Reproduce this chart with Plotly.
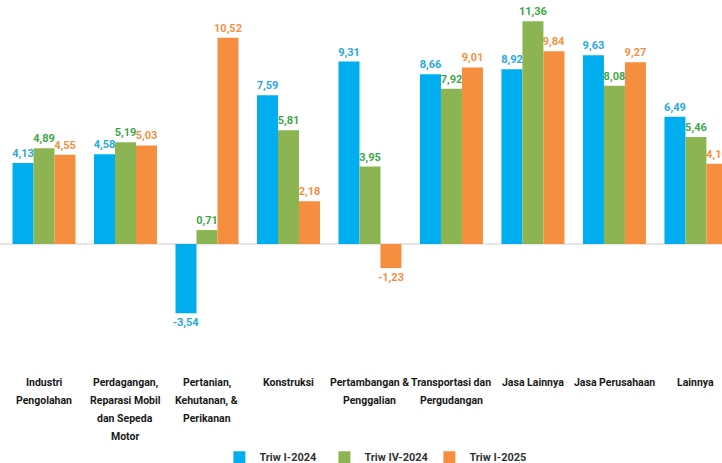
import plotly.graph_objects as go

categories = ["Industri Pengolahan", "Perdagangan, Reparasi Mobil dan Sepeda Motor",
              "Pertanian, Kehutanan, & Perikanan", "Konstruksi", "Pertambangan & Penggalian",
              "Transportasi dan Pergudangan", "Jasa Lainnya", "Jasa Perusahaan", "Lainnya"]
tick_labels = ["Industri<br>Pengolahan", "Perdagangan,<br>Reparasi Mobil<br>dan Sepeda<br>Motor",
               "Pertanian,<br>Kehutanan, &<br>Perikanan", "Konstruksi", "Pertambangan &<br>Penggalian",
               "Transportasi dan<br>Pergudangan", "Jasa Lainnya", "Jasa Perusahaan", "Lainnya"]
series_names = ["Triw I-2024", "Triw IV-2024", "Triw I-2025"]
triw_i_2024 = [4.13, 4.58, -3.54, 7.59, 9.31, 8.66, 8.92, 9.63, 6.49]
triw_iv_2024 = [4.89, 5.19, 0.71, 5.81, 3.95, 7.92, 11.36, 8.08, 5.46]
triw_i_2025 = [4.55, 5.03, 10.52, 2.18, -1.23, 9.01, 9.84, 9.27, 4.10]

bar_colors = ["#00AEEF", "#8DB453", "#F68E3F"]
text_colors = ["#29A9E1", "#3FA64A", "#F39143"]
FONT = "Roboto, Liberation Sans, sans-serif"

fig = go.Figure()
for name, vals, bc, tc in zip(series_names, [triw_i_2024, triw_iv_2024, triw_i_2025], bar_colors, text_colors):
    fig.add_trace(go.Bar(
        x=categories, y=vals, name=name,
        marker=dict(color=bc, line=dict(width=0)),
        text=[f"{v:.2f}".replace(".", ",") for v in vals],
        textposition="outside",
        constraintext="none",
        textfont=dict(color=tc, size=11, family=FONT, weight="bold"),
        cliponaxis=True,
    ))

# category labels, one annotation per line to reproduce the reference line spacing
for cat, lab in zip(categories, tick_labels):
    for i, line in enumerate(lab.split("<br>")):
        fig.add_annotation(x=cat, y=0, xref="x", yref="paper", text=line, showarrow=False,
                           yanchor="middle", yshift=-(22 + 18 * i), align="center",
                           font=dict(size=10.5, family=FONT, color="#1a1a1a", weight="bold"))

fig.update_layout(
    width=722, height=463,
    margin=dict(l=0, r=0, t=0, b=103, autoexpand=False),
    paper_bgcolor="white", plot_bgcolor="white",
    barmode="group", bargap=0.227, bargroupgap=0,
    showlegend=True,
    legend=dict(orientation="h", x=0.522, xanchor="center", y=-0.27, yanchor="middle",
                font=dict(size=11, family=FONT, color="#333333", weight="bold"),
                itemwidth=30, entrywidth=60, traceorder="normal"),
    xaxis=dict(range=[-0.54, 8.32], showticklabels=False, showgrid=False, zeroline=False,
               showline=False, ticks=""),
    yaxis=dict(range=[-5.92, 12.45], showticklabels=False, showgrid=False, zeroline=True,
               zerolinecolor="#E6E6E6", zerolinewidth=1.5, showline=False, ticks=""),
)

fig.write_html("out.html")
